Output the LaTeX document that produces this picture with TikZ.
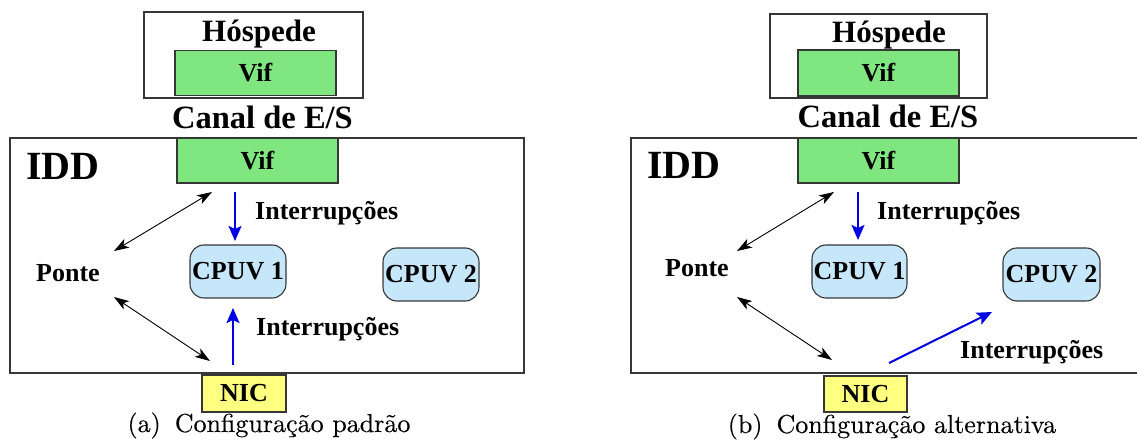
\documentclass[tikz,border=0pt]{standalone}
\usepackage{fontspec}
\newfontfamily\tnr{Liberation Serif}
\newfontfamily\capfont{lmroman10-regular.otf}[FakeBold=0.25]
\usetikzlibrary{arrows.meta}
\definecolor{vifgreen}{RGB}{128,230,128}
\definecolor{cpublue}{RGB}{198,230,250}
\definecolor{nicyellow}{RGB}{255,255,128}
\definecolor{edgegray}{RGB}{55,55,55}
\definecolor{intblue}{RGB}{0,0,225}
\tikzset{
  box/.style={draw=edgegray, line width=1.1pt, inner sep=0pt},
  outerbox/.style={box, fill=none},
  labfont/.style={font=\tnr\bfseries\fontsize{26}{26}\selectfont},
  vifbox/.style={box, labfont, fill=vifgreen, minimum width=161pt, minimum height=45pt},
  cpubox/.style={box, labfont, fill=cpublue, rounded corners=14pt, minimum width=96pt, minimum height=53pt},
  nicbox/.style={box, labfont, fill=nicyellow, minimum width=84pt, minimum height=37pt},
  lbl/.style={labfont, inner sep=0pt, anchor=base west},
  titlelbl/.style={inner sep=0pt, anchor=base, font=\tnr\bfseries\fontsize{31}{31}\selectfont},
  iddlbl/.style={inner sep=0pt, anchor=base west, font=\tnr\bfseries\fontsize{40}{40}\selectfont},
  caplbl/.style={inner sep=0pt, anchor=base, font=\capfont\fontsize{26}{26}\selectfont},
  bidir/.style={{Stealth[length=15pt,width=10pt,inset=4pt]}-{Stealth[length=15pt,width=10pt,inset=4pt]}, line width=0.9pt, black},
  intr/.style={-{Stealth[length=15pt,width=13pt,inset=3pt]}, line width=2pt, intblue}
}
\begin{document}
\begin{tikzpicture}[x=1pt,y=-1pt]
\useasboundingbox (0,0) rectangle (1137,443);
\clip (0,0) rectangle (1137,443);

% ---------------- (a) ----------------
\node[outerbox, minimum width=219pt, minimum height=86pt] (hostA) at (253.5,55) {};
\node[titlelbl] (hospA) at (259,42) {Hóspede};
\node[vifbox] (gvifA) at (255.5,73) {Vif};
\node[titlelbl, font=\tnr\bfseries\fontsize{32.5}{32.5}\selectfont] (canalA) at (262.5,129) {Canal de E/S};
\node[outerbox, minimum width=514pt, minimum height=235pt] (iddA) at (267,255.5) {};
\node[iddlbl] (iddlA) at (26,180) {IDD};
\node[vifbox] (vifA) at (257.5,160.5) {Vif};
\node[cpubox] (cpuaA) at (238,271.5) {CPUV 1};
\node[cpubox] (cpubA) at (431,274.5) {CPUV 2};
\node[lbl] (ponteA) at (36,282) {Ponte};
\node[lbl] (int1A) at (255,220) {Interrupções};
\node[lbl] (int2A) at (256,336) {Interrupções};
\node[nicbox] (nicA) at (244,393.5) {NIC};
\node[caplbl] (capA) at (269,432) {(a)\hspace{14pt}Configuração padrão};

\coordinate (dA1) at (235,192);
\coordinate (dA2) at (235,241);
\coordinate (uA1) at (233,365);
\coordinate (uA2) at (233,308);
\coordinate (pA1) at (114,251);
\coordinate (pA2) at (212,192);
\coordinate (pA3) at (114,297);
\coordinate (pA4) at (210,361);
\draw[intr] (dA1) -- (dA2);
\draw[intr] (uA1) -- (uA2);
\draw[bidir] (pA1) -- (pA2);
\draw[bidir] (pA3) -- (pA4);

% ---------------- (b) ----------------
\node[outerbox, minimum width=217pt, minimum height=84pt] (hostB) at (878.5,56) {};
\node[titlelbl] (hospB) at (889,43) {Hóspede};
\node[vifbox, minimum height=46pt] (gvifB) at (878.5,73) {Vif};
\node[titlelbl, font=\tnr\bfseries\fontsize{32.5}{32.5}\selectfont] (canalB) at (888,128) {Canal de E/S};
\node[outerbox, minimum width=514pt, minimum height=235pt] (iddB) at (888,255.5) {};
\node[iddlbl] (iddlB) at (647,179) {IDD};
\node[vifbox] (vifB) at (878.5,160.5) {Vif};
\node[cpubox, minimum width=95pt] (cpuaB) at (859.5,271.5) {CPUV 1};
\node[cpubox, minimum width=97pt] (cpubB) at (1051.5,274.5) {CPUV 2};
\node[lbl] (ponteB) at (665,277) {Ponte};
\node[lbl] (int1B) at (877,220) {Interrupções};
\node[lbl] (int2B) at (960,359) {Interrupções};
\node[nicbox, minimum width=83pt, minimum height=36pt] (nicB) at (865.5,394) {NIC};
\node[caplbl] (capB) at (892,433) {(b)\hspace{14pt}Configuração alternativa};

\coordinate (dB1) at (858,192);
\coordinate (dB2) at (858,240);
\coordinate (sB1) at (889,363);
\coordinate (sB2) at (992,312);
\coordinate (pB1) at (737,251);
\coordinate (pB2) at (834,192);
\coordinate (pB3) at (737,297);
\coordinate (pB4) at (832,360);
\draw[intr] (dB1) -- (dB2);
\draw[intr] (sB1) -- (sB2);
\draw[bidir] (pB1) -- (pB2);
\draw[bidir] (pB3) -- (pB4);
\end{tikzpicture}
\end{document}
